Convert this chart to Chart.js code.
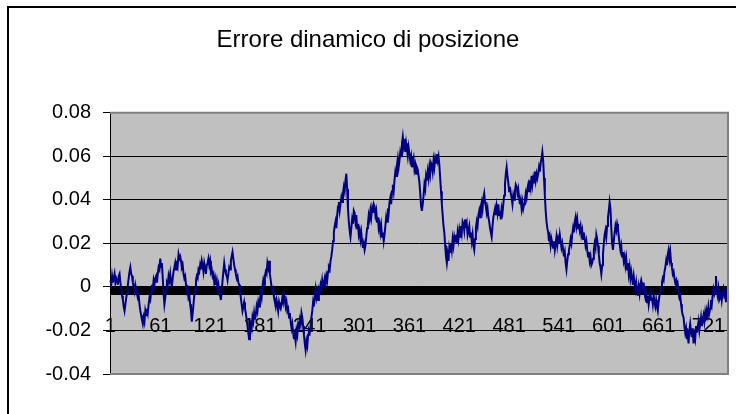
<!DOCTYPE html>
<html>
<head>
<meta charset="utf-8">
<script src="https://cdn.jsdelivr.net/npm/chart.js@4"></script>
<style>
  html, body { margin: 0; padding: 0; background: #fff; overflow: hidden; }
  #frame { position: absolute; left: 7px; top: 6px; width: 800px; height: 500px; border: 2px solid #000; }
  #chart { position: absolute; left: 0; top: 0; }
</style>
</head>
<body>
<div id="frame"></div>
<canvas id="chart" width="736" height="414"></canvas>
<script>
// valori (un punto per campione)
var errore = [
  .003,.001,.005,.002,.004,.006,.002,.004,.003,.001,.005,.006,.002,-.001,-.004,-.006,-.009,-.011,-.008,-.005,
  -.003,.001,.004,.007,.009,.006,.005,.002,0,-.002,.001,-.001,-.003,-.005,-.004,-.008,-.011,-.013,-.015,-.017,
  -.014,-.016,-.011,-.013,-.010,-.012,-.008,-.005,-.006,-.002,.001,-.001,.003,.001,.004,.005,.002,.006,.009,.008,
  .013,.009,.011,.004,-.003,-.008,-.005,-.001,.002,.001,.005,.003,.006,.002,0,.004,.007,.009,.011,.008,
  .012,.010,.015,.013,.014,.012,.009,.010,.006,.004,.005,.001,-.002,-.001,-.005,-.004,-.008,-.011,-.016,-.012,
  -.008,-.004,-.001,.003,.005,.004,.008,.007,.010,.008,.012,.010,.007,.011,.009,.006,.010,.011,.013,.010,
  .012,.007,.008,.005,.006,.002,.004,.001,.003,-.001,.001,-.003,-.004,-.006,-.002,.003,.007,.011,.008,.006,
  .005,.003,.006,.009,.008,.012,.014,.016,.013,.010,.008,.006,.004,.005,.002,.001,-.002,-.005,-.008,-.011,
  -.009,-.007,-.010,-.012,-.015,-.018,-.021,-.024,-.020,-.017,-.019,-.014,-.016,-.012,-.015,-.013,-.009,-.011,-.007,-.009,
  -.006,-.003,-.005,0,.003,.001,.005,.007,.006,.011,.009,.012,.006,.003,0,-.002,-.001,-.005,-.007,-.009,
  -.006,-.008,-.011,-.007,-.009,-.010,-.008,-.005,-.007,-.004,-.006,-.009,-.007,-.011,-.010,-.014,-.012,-.016,-.019,-.017,
  -.021,-.024,-.022,-.025,-.020,-.022,-.017,-.018,-.015,-.017,-.012,-.014,-.018,-.022,-.026,-.029,-.025,-.027,-.022,-.020,
  -.021,-.018,-.014,-.011,-.007,-.009,-.004,-.001,-.005,-.003,-.006,-.001,-.002,.001,-.001,.003,0,.002,.004,.001,
  .005,.003,.007,.009,.008,.012,.014,.017,.021,.025,.028,.030,.027,.033,.037,.039,.035,.038,.041,.039,
  .043,.046,.044,.049,.052,.045,.036,.030,.026,.023,.027,.031,.029,.035,.034,.030,.033,.027,.029,.024,
  .026,.022,.025,.021,.018,.020,.017,.019,.023,.027,.029,.033,.031,.035,.032,.036,.034,.038,.037,.033,
  .035,.030,.032,.027,.029,.025,.028,.023,.025,.021,.024,.028,.032,.030,.036,.034,.039,.041,.038,.044,
  .047,.044,.049,.053,.051,.056,.059,.055,.058,.062,.060,.066,.069,.065,.068,.062,.066,.063,.060,.064,
  .061,.058,.060,.055,.057,.059,.054,.056,.052,.055,.054,.051,.048,.043,.037,.035,.038,.042,.047,.045,
  .051,.049,.053,.050,.055,.052,.057,.056,.053,.058,.055,.059,.057,.061,.058,.060,.056,.050,.044,.038,
  .033,.028,.025,.019,.014,.011,.015,.012,.018,.016,.020,.017,.022,.019,.023,.021,.024,.020,.025,.022,
  .026,.023,.028,.025,.030,.029,.026,.031,.027,.029,.024,.026,.028,.023,.025,.021,.024,.019,.017,.022,
  .027,.030,.028,.033,.035,.032,.037,.039,.036,.041,.043,.039,.037,.034,.036,.032,.030,.027,.025,.023,
  .028,.032,.034,.036,.033,.037,.034,.038,.033,.035,.031,.036,.034,.038,.042,.047,.052,.055,.051,.048,
  .044,.046,.043,.041,.038,.042,.040,.044,.047,.046,.043,.045,.041,.038,.040,.036,.039,.036,.038,.040,
  .043,.041,.045,.047,.044,.049,.046,.051,.047,.050,.048,.053,.049,.052,.050,.052,.055,.053,.057,.059,
  .062,.058,.050,.042,.035,.030,.027,.025,.021,.023,.019,.022,.020,.018,.021,.017,.020,.023,.019,.022,
  .020,.024,.021,.018,.020,.017,.014,.016,.011,.008,.012,.015,.017,.019,.022,.020,.024,.027,.025,.030,
  .032,.028,.031,.027,.029,.026,.028,.024,.026,.022,.025,.022,.019,.021,.017,.014,.016,.012,.014,.010,
  .011,.013,.017,.020,.018,.024,.022,.019,.015,.011,.009,.006,.010,.015,.020,.024,.026,.023,.028,.032,
  .035,.039,.036,.027,.020,.017,.021,.025,.028,.026,.029,.027,.023,.020,.017,.019,.014,.016,.012,.014,
  .010,.013,.008,.011,.006,.009,.004,.007,.004,.001,.005,.002,-.001,.002,-.002,-.004,0,-.003,.001,.003,
  .001,-.002,.002,-.003,-.005,-.003,-.007,-.004,-.008,-.005,-.003,-.006,-.005,-.008,-.004,-.007,-.009,-.006,-.009,-.011,
  -.007,-.004,-.001,0,.002,.004,.003,.007,.009,.012,.010,.015,.017,.013,.016,.011,.009,.006,.007,.004,
  .002,.003,-.001,.001,-.003,-.005,-.004,-.008,-.011,-.013,-.014,-.018,-.021,-.019,-.024,-.022,-.026,-.020,-.017,-.021,
  -.023,-.019,-.026,-.022,-.024,-.018,-.021,-.019,-.016,-.020,-.017,-.014,-.018,-.015,-.013,-.016,-.012,-.015,-.011,-.013,
  -.009,-.012,-.010,-.006,-.008,-.004,-.001,-.003,-.001,.005,-.002,-.004,-.001,-.006,-.005,-.002,-.006,-.003,-.001,-.004,
  -.003,-.007,-.002,-.003
];

// categorie 1..N, etichette ogni 60 campioni
var categories = errore.map(function(_, i) { return String(i + 1); });
var xTickLabels = ['1','61','121','181','241','301','361','421','481','541','601','661','721'];
var yTicks = [-0.04, -0.02, 0, 0.02, 0.04, 0.06, 0.08];
var yTickLabels = ['-0.04', '-0.02', '0', '0.02', '0.04', '0.06', '0.08'];

Chart.defaults.font.family = '"Liberation Sans", Arial, sans-serif';
Chart.defaults.color = '#000';

// sfondo grigio e bordo dell'area del grafico
var plotArea = {
  id: 'plotArea',
  beforeDraw: function(chart) {
    var a = chart.chartArea, c = chart.ctx;
    c.save();
    c.fillStyle = '#c0c0c0';
    c.fillRect(a.left, a.top, a.right - a.left, a.bottom - a.top);
    c.restore();
  },
  afterDatasetsDraw: function(chart) {
    var a = chart.chartArea, c = chart.ctx;
    c.save();
    c.strokeStyle = '#808080';
    c.lineWidth = 2;
    c.beginPath();
    c.moveTo(a.left, a.top);
    c.lineTo(a.right, a.top);
    c.lineTo(a.right, a.bottom);
    c.lineTo(a.left, a.bottom);
    c.stroke();
    c.restore();
  }
};

var ctx = document.getElementById('chart').getContext('2d');
var chart = new Chart(ctx, {
  type: 'line',
  data: {
    labels: categories,
    datasets: [{
      label: 'Errore',
      data: errore,
      borderColor: '#000080',
      borderWidth: 2,
      pointRadius: 0,
      tension: 0,
      fill: false
    }]
  },
  options: {
    responsive: false,
    animation: false,
    layout: { padding: { left: 8, right: 8, top: 0, bottom: 40 } },
    plugins: {
      legend: { display: false },
      tooltip: { enabled: false },
      title: {
        display: true,
        text: 'Errore dinamico di posizione',
        color: '#000',
        font: { size: 24, weight: 'normal' },
        padding: { top: 26, bottom: 58 }
      }
    },
    scales: {
      x: {
        type: 'category',
        position: { y: 0 },
        offset: true,
        afterFit: function(s) { s.paddingLeft = 0; s.paddingRight = 0; },
        grid: { offset: true, drawOnChartArea: false, drawTicks: true, tickLength: 8, tickColor: '#000', tickWidth: 1 },
        border: { display: true, color: '#000', width: 1 },
        ticks: {
          autoSkip: false,
          maxRotation: 0,
          minRotation: 0,
          padding: 20,
          font: { size: 20 },
          color: '#000',
          callback: function(v, i) {
            return xTickLabels.indexOf(categories[i]) >= 0 ? categories[i] : '';
          }
        }
      },
      y: {
        min: -0.04,
        max: 0.08,
        afterBuildTicks: function(s) {
          s.ticks = yTicks.map(function(v) { return { value: v }; });
        },
        afterFit: function(s) { s.width = 102; },
        grid: { color: '#000', lineWidth: 1, tickLength: 7, tickColor: '#000' },
        border: { color: '#000', width: 1 },
        ticks: {
          padding: 12,
          font: { size: 20 },
          color: '#000',
          callback: function(v, i) { return yTickLabels[i]; }
        }
      }
    }
  },
  plugins: [plotArea]
});
</script>
</body>
</html>
